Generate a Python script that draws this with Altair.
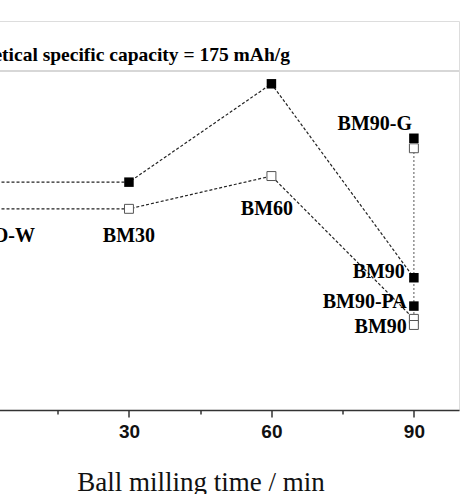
import altair as alt
import pandas as pd

# ---- data ----
time_min = [0, 30, 60, 90]
filled_cap = [151.0, 151.0, 168.7, 133.8]   # solid squares
open_cap = [146.2, 146.2, 152.1, 126.4]     # open squares

extra_time = [90, 90]
extra_filled = [158.9, 128.7]   # BM90-G, BM90-PA (solid)
extra_open = [157.1, 125.3]     # BM90-G, BM90-PA (open)

vert_time = [90, 90, 90, 90]
vert_cap = [157.1, 133.8, 128.7, 125.3]

label_text = ["LCO-W", "BM30", "BM60", "BM90-G", "BM90", "BM90-PA", "BM90"]
label_x = [10.2, 30.0, 59.05, 89.6, 88.1, 88.5, 88.5]
label_y = [141.3, 141.3, 146.2, 161.5, 134.8, 129.4, 124.9]
label_align = ["right", "center", "center", "right", "right", "right", "right"]

box_text = ["Theoretical specific capacity = 175 mAh/g"]
box_x = [63.9]
box_y = [173.9]
box_line = [171.0]

xticks = [15, 30, 45, 60, 75, 90]

# ---- tables ----
filled_df = pd.DataFrame({"t": time_min + extra_time, "c": filled_cap + extra_filled})
open_df = pd.DataFrame({"t": time_min + extra_time, "c": open_cap + extra_open})
line_f = pd.DataFrame({"t": time_min, "c": filled_cap})
line_o = pd.DataFrame({"t": time_min, "c": open_cap})
vert_df = pd.DataFrame({"t": vert_time, "c": vert_cap})
lab_df = pd.DataFrame({"t": label_x, "c": label_y, "s": label_text, "a": label_align})
box_df = pd.DataFrame({"t": box_x, "c": box_y, "s": box_text})
sep_df = pd.DataFrame({"c": box_line})

xs = alt.Scale(domain=[0, 99.5], nice=False, zero=False)
ys = alt.Scale(domain=[110, 180], nice=False, zero=False)

xaxis = alt.Axis(
    values=xticks,
    labelExpr="datum.value % 30 === 0 ? datum.label : ''",
    tickSize={"condition": {"test": "datum.value % 30 === 0", "value": 7}, "value": 4},
    tickColor="#333", tickWidth=1.5,
    domainColor="#333", domainWidth=1.5,
    labelFont="Liberation Sans", labelFontWeight="bold", labelFontSize=19,
    labelColor="#111", labelPadding=5,
    grid=False,
    title="Ball milling time / min",
    titleFont="Liberation Serif", titleFontWeight="normal", titleFontSize=27,
    titleColor="#111", titleX=214, titleY=80, titleAlign="center",
    titleBaseline="alphabetic", titleAnchor="start",
)

X = alt.X("t:Q", scale=xs, axis=xaxis)
Y = alt.Y("c:Q", scale=ys, axis=None)

dash = [3, 2]
lf = alt.Chart(line_f).mark_line(color="#222", strokeWidth=1.2, strokeDash=dash).encode(x=X, y=Y)
lo = alt.Chart(line_o).mark_line(color="#222", strokeWidth=1.2, strokeDash=dash).encode(x=X, y=Y)
lv = alt.Chart(vert_df).mark_line(color="#333", strokeWidth=1.1, strokeDash=[1.5, 2.5]).encode(x=X, y=Y)

sep = alt.Chart(sep_df).mark_rule(color="#b0b0b0", strokeWidth=1.2).encode(y=Y)

pts_o = alt.Chart(open_df).mark_point(shape="square", filled=True, fill="white",
                                      stroke="#555", strokeWidth=1, size=80, opacity=1).encode(x=X, y=Y)
pts_f = alt.Chart(filled_df).mark_point(shape="square", filled=True, color="black",
                                        size=90, opacity=1).encode(x=X, y=Y)

def label_layer(align):
    return alt.Chart(lab_df).transform_filter(
        alt.datum.a == align
    ).mark_text(font="Liberation Serif", fontWeight="bold", fontSize=20,
                baseline="middle", align=align, color="black").encode(x=X, y=Y, text="s:N")

labels_c = label_layer("center")
labels_r = label_layer("right")

box = alt.Chart(box_df).mark_text(font="Liberation Serif", fontWeight="bold", fontSize=19.5,
                                  baseline="middle", align="right", color="black").encode(
    x=X, y=Y, text="s:N")

chart = alt.layer(sep, lf, lo, lv, pts_o, pts_f, labels_c, labels_r, box).properties(
    width=472.5, height=389,
    autosize=alt.AutoSizeParams(type="none"),
    padding={"left": -13.5, "top": 21, "right": 2, "bottom": 84},
).configure_view(stroke="#333", strokeWidth=1.5).configure(background="white")

chart.save("out.html", embed_options={"renderer": "svg", "actions": False})
